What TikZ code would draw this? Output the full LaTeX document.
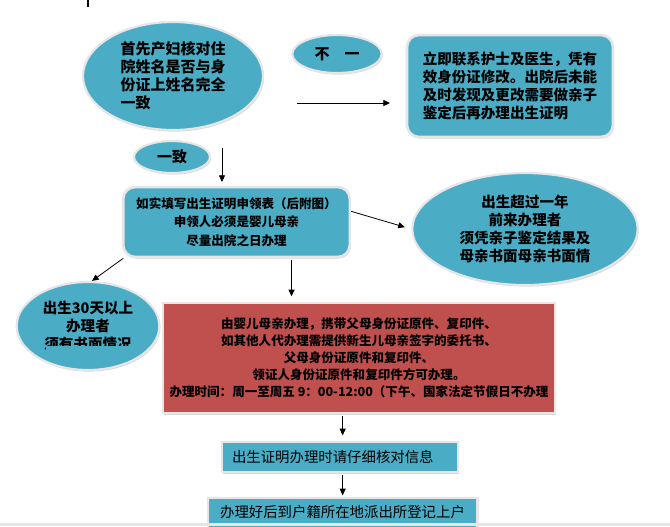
\documentclass[tikz,border=0pt]{standalone}
\usepackage{fontspec}
\setmainfont{Noto Sans CJK SC}
\usetikzlibrary{arrows.meta,positioning,calc,shapes.geometric,shadows}

\definecolor{cellblue}{HTML}{4BACC6}
\definecolor{cellred}{HTML}{C0504D}
\definecolor{rimgray}{HTML}{E6E6E6}

\newcommand\ovaltxt{\fontsize{11.25pt}{13.5pt}\selectfont}
\newcommand\boxtxt{\fontsize{10.9pt}{13.6pt}\selectfont}
\newcommand\midtxt{\fontsize{9.4pt}{13.9pt}\selectfont}
\newcommand\redtxt{\fontsize{9.4pt}{12.8pt}\selectfont}
\newcommand\bartxt{\fontsize{10.8pt}{13pt}\selectfont\mdseries}

\begin{document}
\begin{tikzpicture}[
      x=0.75pt, y=-0.75pt,
      font=\bfseries,
      oval/.style={ellipse, draw=rimgray, line width=1.6pt, fill=cellblue,
                   inner sep=0pt, align=center,
                   drop shadow={opacity=0.3, shadow xshift=0.8pt, shadow yshift=-1.2pt}},
      box/.style={rectangle, draw=rimgray, line width=2pt, fill=cellblue,
                  inner sep=0pt, align=center,
                  drop shadow={opacity=0.3, shadow xshift=0.8pt, shadow yshift=-1.2pt}},
      rbox/.style={box, rounded corners=9pt},
      redbox/.style={box, fill=cellred},
      arr/.style={-{Triangle[length=5pt, width=4.5pt]}, line width=0.6pt}
    ]
    \useasboundingbox (0,0) rectangle (670,526);
    \draw[line width=1pt] (88,0) -- (88,7);
    % top row
    \node[oval, minimum width=135pt, minimum height=81pt, align=left, font=\bfseries\ovaltxt]
      (check) at (173,76) {首先产妇核对住\\院姓名是否与身\\份证上姓名完全\\一致};
    \node[oval, minimum width=67pt, minimum height=28.5pt, font=\bfseries\ovaltxt]
      (notsame) at (337,54) {不　一};
    \node[rbox, minimum width=154.5pt, minimum height=76.5pt, align=left, font=\bfseries\boxtxt]
      (fix) at (510,86) {立即联系护士及医生，凭有\\效身份证修改。出院后未能\\及时发现及更改需要做亲子\\鉴定后再办理出生证明};
    \coordinate (ns1) at (297,103);
    \coordinate (ns2) at (390,103);
    \draw[arr] (ns1) -- (ns2);
    % same branch
    \node[oval, minimum width=57pt, minimum height=24pt, font=\bfseries\ovaltxt]
      (same) at (172,157) {一致};
    \coordinate (sm1) at (222,148);
    \coordinate (sm2) at (222,182);
    \draw[arr] (sm1) -- (sm2);
    \node[rbox, minimum width=170pt, minimum height=52.5pt, font=\bfseries\midtxt]
      (form) at (236.5,222) {如实填写出生证明申领表（后附图）\\申领人必须是婴儿母亲\\尽量出院之日办理};
    \node[oval, minimum width=169pt, minimum height=84pt, font=\bfseries\boxtxt]
      (year) at (525,229) {出生超过一年\\前来办理者\\须凭亲子鉴定结果及\\母亲书面母亲书面情};
    \node[oval, minimum width=107pt, minimum height=66pt, font=\bfseries\boxtxt]
      (month) at (88,326) {出生30天以上\\办理者\\须有书面情况};
    % cut-off last line
    \fill[cellblue] (46,346) rectangle (132,360);
    \draw[arr, shorten >=5pt] ([yshift=8pt]form.east) -- (year.west);
    \draw[arr] ([xshift=1pt]form.south west) -- ([xshift=3pt]month.north);
    \coordinate (f2r) at ($(form.south west)!0.74!(form.south east)$);
    % documents box
    \node[redbox, minimum width=294pt, minimum height=82.5pt, font=\bfseries\redtxt]
      (docs) at (359,358) {由婴儿母亲办理，携带父母身份证原件、复印件、\\如其他人代办理需提供新生儿母亲签字的委托书、\\父母身份证原件和复印件、\\领证人身份证原件和复印件方可办理。\\办理时间：周一至周五 9：00-12:00（下午、国家法定节假日不办理};
    \draw[arr, shorten <=1pt, shorten >=4pt] (f2r) -- (f2r |- docs.north);
    \node[box, minimum width=177pt, minimum height=22.5pt, text width=162pt,
          inner xsep=7.5pt, align=left, font=\bartxt]
      (verify) at (340,457) {出生证明办理时请仔细核对信息};
    \node[box, minimum width=202pt, minimum height=25.5pt, text depth=6pt, font=\bartxt]
      (register) at (342.5,515) {办理好后到户籍所在地派出所登记上户};
    \draw[arr, shorten <=1pt, shorten >=4pt] ([xshift=2pt]docs.south -| verify.north) -- ([xshift=2pt]verify.north);
    \draw[arr, shorten <=1pt, shorten >=1pt] ([xshift=2pt]verify.south) -- ([xshift=2pt]register.north -| verify.south);
    \draw[rimgray, line width=2pt] (0,524.5) -- (670,524.5);
  \end{tikzpicture}
\end{document}
